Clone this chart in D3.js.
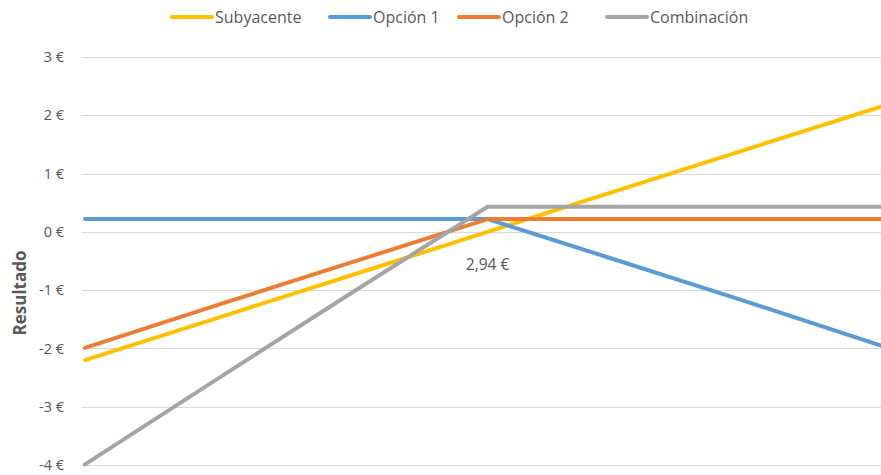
<!DOCTYPE html>
<html>
<head>
<meta charset="utf-8">
<script src="https://cdn.jsdelivr.net/npm/d3@7"></script>
<style>
  body { margin: 0; background: #fff; }
  svg { display: block; font-family: "Open Sans", sans-serif; }
</style>
</head>
<body>
<div id="chart"></div>
<script>
// precio del subyacente al vencimiento
var precios = [0.74, 1.5, 2.2, 2.94, 3.6, 4.3, 5.09];
var subyacente = [-2.2, -1.44, -0.74, 0.0, 0.66, 1.36, 2.15];
var opcion1 = [0.22, 0.22, 0.22, 0.22, -0.44, -1.14, -1.95];
var opcion2 = [-1.99, -1.22, -0.52, 0.22, 0.22, 0.22, 0.22];
var combinacion = [-3.99, -2.45, -1.04, 0.43, 0.43, 0.43, 0.43];
var yTicks = [-4, -3, -2, -1, 0, 1, 2, 3];
var strikeLabel = "2,94 €";
var strike = 2.94;

var series = [
  { name: "Subyacente", values: subyacente, color: "#FFC000" },
  { name: "Opción 1", values: opcion1, color: "#5B9BD5" },
  { name: "Opción 2", values: opcion2, color: "#ED7D31" },
  { name: "Combinación", values: combinacion, color: "#A5A5A5" }
];

var width = 881, height = 475;

var svg = d3.select("#chart").append("svg")
  .attr("width", width)
  .attr("height", height);

var x = d3.scaleLinear()
  .domain([precios[0], precios[precios.length - 1]])
  .range([85, 881]);

var y = d3.scaleLinear()
  .domain([-4, 3])
  .range([465, 57]);

// gridlines
svg.append("g")
  .selectAll("line")
  .data(yTicks)
  .enter()
  .append("line")
    .attr("x1", 82)
    .attr("x2", width)
    .attr("y1", function(d) { return Math.round(y(d)) + 0.5; })
    .attr("y2", function(d) { return Math.round(y(d)) + 0.5; })
    .attr("stroke", "#D9D9D9")
    .attr("stroke-width", 1);

// y axis labels
var yAxis = d3.axisLeft(y)
  .tickValues(yTicks)
  .tickSize(0)
  .tickPadding(0)
  .tickFormat(function(d) { return d + " €"; });

var gy = svg.append("g")
  .attr("transform", "translate(64,0)")
  .call(yAxis);
gy.select(".domain").remove();
gy.selectAll("text")
  .attr("fill", "#595959")
  .style("font-size", "14.5px")
  .style("font-family", "'Open Sans', sans-serif");

// y axis title
svg.append("text")
  .attr("transform", "translate(26,293) rotate(-90)")
  .attr("text-anchor", "middle")
  .attr("fill", "#595959")
  .style("font-size", "17px")
  .style("font-weight", "bold")
  .text("Resultado");

// lines
var line = d3.line()
  .x(function(d, i) { return x(precios[i]); })
  .y(function(d) { return y(d); });

svg.append("defs").append("clipPath")
  .attr("id", "clip")
  .append("rect")
    .attr("x", 80).attr("y", 0)
    .attr("width", width - 80).attr("height", height);

svg.append("g")
  .attr("clip-path", "url(#clip)")
  .selectAll("path")
  .data(series)
  .enter()
  .append("path")
    .attr("d", function(d) { return line(d.values); })
    .attr("fill", "none")
    .attr("stroke", function(d) { return d.color; })
    .attr("stroke-width", 4)
    .attr("stroke-linecap", "round")
    .attr("stroke-linejoin", "round");

// data label at the strike
svg.append("text")
  .attr("x", x(strike))
  .attr("y", y(0) + 38)
  .attr("text-anchor", "middle")
  .attr("fill", "#595959")
  .style("font-size", "15.5px")
  .text(strikeLabel);

// legend
var legendX = [170, 328, 457, 605];
var legend = svg.append("g");
var items = legend.selectAll("g")
  .data(series)
  .enter()
  .append("g")
    .attr("transform", function(d, i) { return "translate(" + legendX[i] + ",17)"; });

items.append("line")
  .attr("x1", 2).attr("x2", 42)
  .attr("y1", 0).attr("y2", 0)
  .attr("stroke", function(d) { return d.color; })
  .attr("stroke-width", 4)
  .attr("stroke-linecap", "round");

items.append("text")
  .attr("x", 45)
  .attr("y", 6)
  .attr("fill", "#595959")
  .style("font-size", "16px")
  .text(function(d) { return d.name; });
</script>
</body>
</html>
